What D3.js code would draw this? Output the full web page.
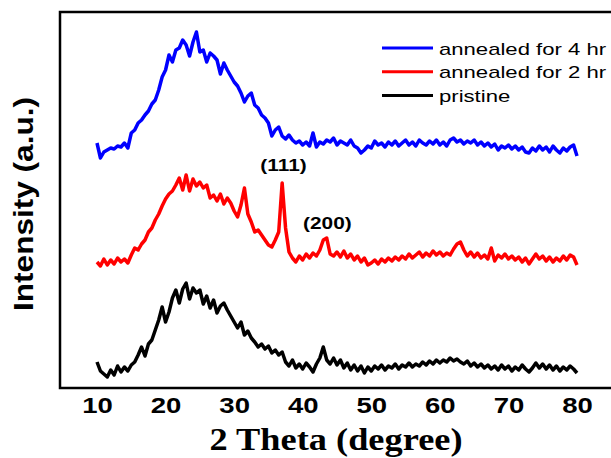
<!DOCTYPE html>
<html>
<head>
<meta charset="utf-8">
<script src="https://cdn.jsdelivr.net/npm/d3@7"></script>
<style>
  body { margin: 0; background: #fff; }
  text { font-family: "Liberation Sans", Arial, sans-serif; }
</style>
</head>
<body>
<div id="xrd"></div>
<script>
// 2-theta grid (degrees), sampled every 0.5
var thetaStart = 10, thetaStep = 0.5;

// intensities (a.u.), offset stacked as in the figure
var annealed4 = [245,230,236,238,240,239,242,241,245,240,255,258,265,268,273,277,284,288,298,311,
  318,333,326,338,340,348,343,332,346,356,336,338,326,335,332,328,314,325,318,312,
  306,302,295,286,292,295,283,280,273,270,265,252,258,261,252,249,253,248,245,247,
  243,246,242,255,241,246,244,248,246,250,243,247,245,243,248,242,240,235,238,242,
  240,247,243,245,241,246,243,247,242,245,248,243,246,242,248,245,243,247,244,248,
  243,246,242,248,250,246,248,244,247,245,248,243,246,242,245,241,244,238,242,240,
  243,239,242,238,241,236,235,240,237,242,238,241,236,242,238,235,240,237,241,243,232];

var annealed2 = [126,122,129,123,128,124,130,126,129,125,133,140,138,144,148,156,160,168,174,182,
  189,194,197,203,210,198,213,197,209,202,206,200,203,190,193,187,194,184,190,185,
  177,171,183,200,174,166,156,158,153,148,143,141,148,156,205,160,136,130,126,132,
  128,134,130,135,132,138,148,150,134,132,136,131,137,130,134,128,132,126,130,123,
  125,128,124,129,126,130,127,131,128,132,129,134,130,133,136,131,135,132,137,133,
  136,132,135,133,139,144,146,138,132,136,131,135,130,133,129,140,127,133,130,134,
  129,132,128,131,126,130,124,129,134,129,132,127,131,126,130,127,132,128,133,131,123];

var pristine = [26,17,14,11,18,13,22,16,21,17,23,26,33,41,32,44,48,58,68,81,
  66,76,90,98,85,99,105,89,100,95,98,84,92,80,88,75,82,85,78,72,
  66,60,66,53,57,50,46,41,44,39,42,35,38,33,36,26,22,28,20,24,
  19,25,21,16,24,30,41,28,24,30,23,28,20,25,18,23,17,22,15,21,
  17,22,19,23,18,22,20,24,19,23,21,25,21,24,22,26,23,27,24,28,
  25,28,26,30,27,29,26,24,27,22,25,21,24,20,23,19,22,18,23,19,
  22,17,21,18,23,19,16,20,25,20,24,19,23,18,22,17,21,18,22,19,15];

var seriesNames = ["annealed for 4 hr", "annealed for 2 hr", "pristine"];
var seriesColors = ["#0000ff", "#ff0000", "#000000"];
var xTicks = [10, 20, 30, 40, 50, 60, 70, 80];

// peak labels: [text, 2theta, intensity at label baseline]
var peakLabels = [["(111)", 37.2, 217], ["(200)", 43.6, 159]];

var margin = {top: 12, left: 60},
    width = 555,
    height = 376;

var svg = d3.select("#xrd")
    .append("svg")
    .attr("width", 611)
    .attr("height", 458);

var g = svg.append("g")
    .attr("transform", "translate(" + margin.left + "," + margin.top + ")");

var xScale = d3.scaleLinear()
    .domain([10, 80])
    .range([37, 517]);

var yScale = d3.scaleLinear()
    .domain([0, 376])
    .range([height, 0]);

// squeeze/stretch a text element horizontally by k
function stretch(sel, k) {
    sel.each(function() {
        var len = this.getComputedTextLength();
        d3.select(this).attr("textLength", len * k).attr("lengthAdjust", "spacingAndGlyphs");
    });
}

function toPoints(values) {
    return values.map(function(v, i) { return [thetaStart + i * thetaStep, v]; });
}

var line = d3.line()
    .x(function(d) { return xScale(d[0]); })
    .y(function(d) { return yScale(d[1]); });

[annealed4, annealed2, pristine].forEach(function(vals, i) {
    g.append("path")
        .datum(toPoints(vals))
        .attr("d", line)
        .attr("fill", "none")
        .attr("stroke", seriesColors[i])
        .attr("stroke-width", 3.5)
        .attr("stroke-linejoin", "round");
});

// frame
g.append("rect")
    .attr("x", 0)
    .attr("y", 0)
    .attr("width", width)
    .attr("height", height)
    .attr("fill", "none")
    .attr("stroke", "#000")
    .attr("stroke-width", 2.5);

var xAxis = g.append("g")
    .attr("transform", "translate(0," + height + ")")
    .call(d3.axisBottom(xScale).tickValues(xTicks).tickSize(0).tickPadding(9));
xAxis.select(".domain").remove();
xAxis.selectAll("text")
    .attr("font-family", "Liberation Sans, Arial, sans-serif")
    .attr("font-size", 22)
    .attr("font-weight", "bold")
    .attr("fill", "#000")
    .call(stretch, 1.25);

svg.append("text")
    .attr("x", 336)
    .attr("y", 450)
    .attr("text-anchor", "middle")
    .style("font-family", "Liberation Serif, Times New Roman, serif")
    .attr("font-size", 31)
    .attr("font-weight", "bold")
    .text("2 Theta (degree)")
    .attr("textLength", 253)
    .attr("lengthAdjust", "spacingAndGlyphs");

svg.append("text")
    .attr("transform", "translate(33,204) rotate(-90)")
    .attr("text-anchor", "middle")
    .attr("font-size", 27)
    .attr("font-weight", "bold")
    .text("Intensity (a.u.)")
    .attr("textLength", 214)
    .attr("lengthAdjust", "spacingAndGlyphs");

// peak labels
peakLabels.forEach(function(p) {
    g.append("text")
        .attr("x", xScale(p[1]))
        .attr("y", yScale(p[2]))
        .attr("text-anchor", "middle")
        .attr("font-size", 16)
        .attr("font-weight", "bold")
        .text(p[0])
        .call(stretch, 1.3);
});

// legend
var legend = svg.append("g").attr("transform", "translate(382,48)");
seriesNames.forEach(function(name, i) {
    var row = legend.append("g").attr("transform", "translate(0," + (i * 23.7) + ")");
    row.append("line")
        .attr("x1", 0).attr("x2", 51)
        .attr("y1", 0).attr("y2", 0)
        .attr("stroke", seriesColors[i])
        .attr("stroke-width", 3);
    row.append("text")
        .attr("x", 57)
        .attr("y", 6.5)
        .attr("font-size", 17)
        .attr("fill", "#000")
        .text(name)
        .call(stretch, 1.3);
});
</script>
</body>
</html>
